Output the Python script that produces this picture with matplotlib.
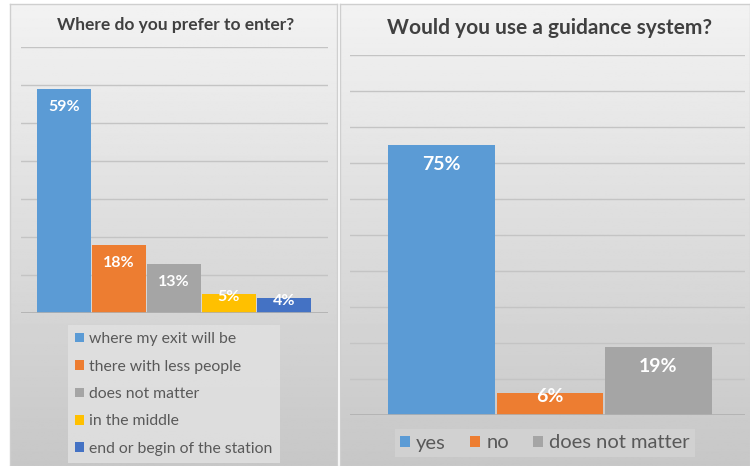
import numpy as np
import matplotlib
matplotlib.use("Agg")
import matplotlib.pyplot as plt

# data
enter_labels = ["where my exit will be", "there with less people", "does not matter",
                "in the middle", "end or begin of the station"]
enter_values = [59, 18, 13, 5, 4]
enter_colors = ["#5b9bd5", "#ed7d31", "#a5a5a5", "#ffc000", "#4472c4"]

guide_labels = ["yes", "no", "does not matter"]
guide_values = [75, 6, 19]
guide_colors = ["#5b9bd5", "#ed7d31", "#a5a5a5"]

plt.rcParams['font.family'] = ['Lato', 'DejaVu Sans']

W, H = 750, 466
fig = plt.figure(figsize=(7.5, 4.66), dpi=100)
fig.patch.set_facecolor("white")


def px(x0, y0, x1, y1):
    # pixel box (top-left origin) -> figure fraction rect
    return [x0 / W, 1 - y1 / H, (x1 - x0) / W, (y1 - y0) / H]


def panel(x0, y0, x1, y1):
    bg = fig.add_axes(px(x0, y0, x1, y1))
    grad = np.linspace(0.95, 0.78, 256).reshape(-1, 1)
    bg.imshow(grad, aspect="auto", cmap="gray", vmin=0, vmax=1,
              extent=[0, 1, 0, 1])
    bg.set_xticks([])
    bg.set_yticks([])
    for s in bg.spines.values():
        s.set_color("#cfcfcf")
        s.set_linewidth(1)
    return bg


def label_bars(ax, bars, values, size, px_per_unit):
    # white labels inside the bar end; short bars get the label centred on the top
    for b, v in zip(bars, values):
        xc = b.get_x() + b.get_width() / 2
        if v * px_per_unit < 30:
            ax.annotate(f"{v}%", (xc, v), xytext=(0, -2), textcoords="offset points",
                        ha="center", va="center", color="white", fontsize=size,
                        fontweight="bold", zorder=5)
        else:
            ax.annotate(f"{v}%", (xc, v), xytext=(0, -8), textcoords="offset points",
                        ha="center", va="top", color="white", fontsize=size,
                        fontweight="bold", zorder=5)


panel(10, 4, 337, 466)
panel(340, 4, 750, 466)

# ---- left chart
ax1 = fig.add_axes(px(21, 47, 328, 313))
ax1.patch.set_alpha(0)
x1 = np.arange(len(enter_values))
bars1 = ax1.bar(x1, enter_values, width=0.97, color=enter_colors, zorder=3)
ax1.set_xlim(-0.782, 4.8)
ax1.set_ylim(0, 70)
ax1.set_yticks(np.arange(0, 71, 10))
ax1.yaxis.grid(True, color="#c4c4c4", lw=1)
ax1.set_xticks([])
ax1.tick_params(left=False, labelleft=False)
for s in ax1.spines.values():
    s.set_visible(False)
ax1.axhline(0, color="#b0b0b0", lw=1.2, zorder=4)
label_bars(ax1, bars1, enter_values, 11.5, 3.8)
fig.text(176 / W, 1 - 25 / H, "Where do you prefer to enter?", ha="center", va="center",
         fontsize=12.5, fontweight="bold", color="#404040")
leg1 = ax1.legend(bars1, enter_labels, loc="center", bbox_to_anchor=(174 / W, 1 - 394 / H),
                  bbox_transform=fig.transFigure, frameon=True, fontsize=11.3,
                  handlelength=0.55, handleheight=0.55, handletextpad=0.35,
                  labelspacing=0.85, borderpad=0.45, fancybox=False)
leg1.get_frame().set_facecolor("#e2e2e2")
leg1.get_frame().set_edgecolor("none")
leg1.get_frame().set_alpha(0.8)
for t in leg1.get_texts():
    t.set_color("#595959")

# ---- right chart
ax2 = fig.add_axes(px(350, 55, 745, 415))
ax2.patch.set_alpha(0)
x2 = np.arange(len(guide_values))
bars2 = ax2.bar(x2, guide_values, width=0.98, color=guide_colors, zorder=3)
ax2.set_xlim(-0.843, 2.797)
ax2.set_ylim(0, 100)
ax2.set_yticks(np.arange(0, 101, 10))
ax2.yaxis.grid(True, color="#c4c4c4", lw=1)
ax2.set_xticks([])
ax2.tick_params(left=False, labelleft=False)
for s in ax2.spines.values():
    s.set_visible(False)
ax2.axhline(0, color="#b0b0b0", lw=1.2, zorder=4)
label_bars(ax2, bars2, guide_values, 14, 3.6)
fig.text(550 / W, 1 - 28 / H, "Would you use a guidance system?", ha="center", va="center",
         fontsize=15, fontweight="bold", color="#404040")
leg2 = ax2.legend(bars2, guide_labels, loc="center", bbox_to_anchor=(545 / W, 1 - 443 / H),
                  bbox_transform=fig.transFigure, ncol=3, frameon=True, fontsize=14.5,
                  handlelength=0.5, handleheight=0.5, handletextpad=0.3,
                  columnspacing=1.2, borderpad=0.25, fancybox=False)
leg2.get_frame().set_facecolor("#d4d4d4")
leg2.get_frame().set_edgecolor("none")
leg2.get_frame().set_alpha(0.8)
for t in leg2.get_texts():
    t.set_color("#595959")

fig.savefig("out.png", dpi=100)
